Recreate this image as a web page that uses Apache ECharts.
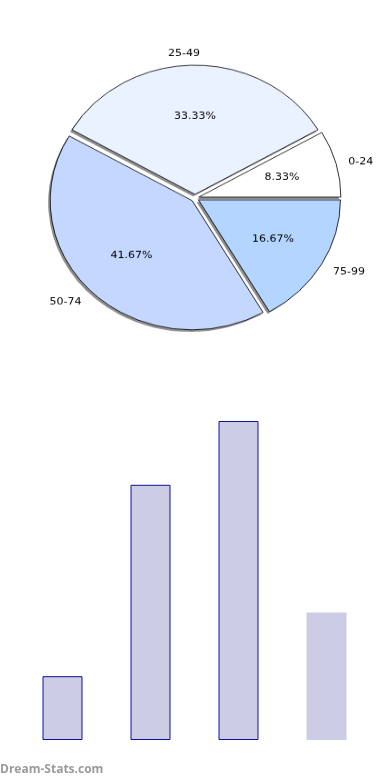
<!DOCTYPE html>
<html>
<head>
<meta charset="utf-8">
<script src="https://cdn.jsdelivr.net/npm/echarts@6/dist/echarts.min.js"></script>
<style>
html,body{margin:0;padding:0;background:#fff;}
#bar{position:absolute;left:0;top:0;width:390px;height:780px;}
#pie{position:absolute;left:0;top:0;width:390px;height:400px;transform:scaleY(0.91);transform-origin:195px 198px;}
</style>
</head>
<body>
<div id="bar"></div>
<div id="pie"></div>
<script>
var categories = ['0-24', '25-49', '50-74', '75-99'];
var counts = [1, 4, 5, 2];
var sliceColors = ['#ffffff', '#eaf1ff', '#c4d7ff', '#b3d5ff'];
var watermark = 'Dream-Stats.com';

var font = 'DejaVu Sans';
var R = 142;
var OFF = 4;

var pieChart = echarts.init(document.getElementById('pie'), null, {renderer: 'canvas'});
function mkData(withColor) {
  return categories.map(function (c, i) {
    var d = {name: c, value: counts[i], selected: true};
    if (withColor) d.itemStyle = {color: sliceColors[i]};
    return d;
  });
}
var common = {
  type: 'pie',
  radius: [0, R],
  startAngle: 0,
  clockwise: false,
  selectedMode: 'multiple',
  selectedOffset: OFF,
  avoidLabelOverlap: false,
  silent: true
};
pieChart.setOption({
  animation: false,
  series: [
    Object.assign({}, common, {
      // drop shadow layer
      center: [193, 200.2],
      z: 1,
      itemStyle: {color: '#8e8e8e', borderWidth: 0},
      label: {show: false},
      labelLine: {show: false},
      data: mkData(false)
    }),
    Object.assign({}, common, {
      center: [195, 198],
      z: 2,
      itemStyle: {borderColor: '#000', borderWidth: 0.8},
      label: {
        show: true,
        position: 'outside',
        formatter: '{b}',
        fontFamily: font,
        fontSize: 11,
        color: '#000',
        distanceToLabelLine: 5
      },
      labelLine: {show: false, length: 7.5, length2: 0},
      labelLayout: function (p) {
        if (p.dataIndex === 1) return {align: 'right', dy: -5};
        if (p.dataIndex === 2) return {dy: 6};
        if (p.dataIndex === 3) return {dy: 4};
        return {};
      },
      data: mkData(true)
    }),
    Object.assign({}, common, {
      center: [195, 198],
      radius: [24, R],
      z: 3,
      itemStyle: {color: 'rgba(0,0,0,0)', borderWidth: 0},
      label: {
        show: true,
        position: 'inside',
        formatter: '{d}%',
        fontFamily: font,
        fontSize: 11,
        color: '#000'
      },
      labelLine: {show: false},
      data: mkData(false)
    })
  ]
});

var barChart = echarts.init(document.getElementById('bar'), null, {renderer: 'canvas'});
var barData = counts.map(function (v, i) {
  return {value: v, itemStyle: i === 3 ? {borderWidth: 0} : {}};
});
barChart.setOption({
  animation: false,
  grid: {left: 18.5, right: 19.5, top: 421, bottom: 40},
  xAxis: {
    type: 'category',
    data: categories,
    axisLine: {show: false},
    axisTick: {show: false},
    axisLabel: {show: false}
  },
  yAxis: {
    type: 'value',
    min: 0,
    max: 5,
    splitLine: {show: false},
    axisLine: {show: false},
    axisTick: {show: false},
    axisLabel: {show: false}
  },
  graphic: [{
    type: 'text',
    left: 0,
    top: 764,
    style: {text: watermark, fill: '#9a9a9a', font: 'bold 12px "Open Sans"'}
  }],
  series: [{
    type: 'bar',
    barWidth: 40,
    silent: true,
    itemStyle: {color: '#cccce5', borderColor: '#11119a', borderWidth: 1},
    data: barData
  }]
});
</script>
</body>
</html>
